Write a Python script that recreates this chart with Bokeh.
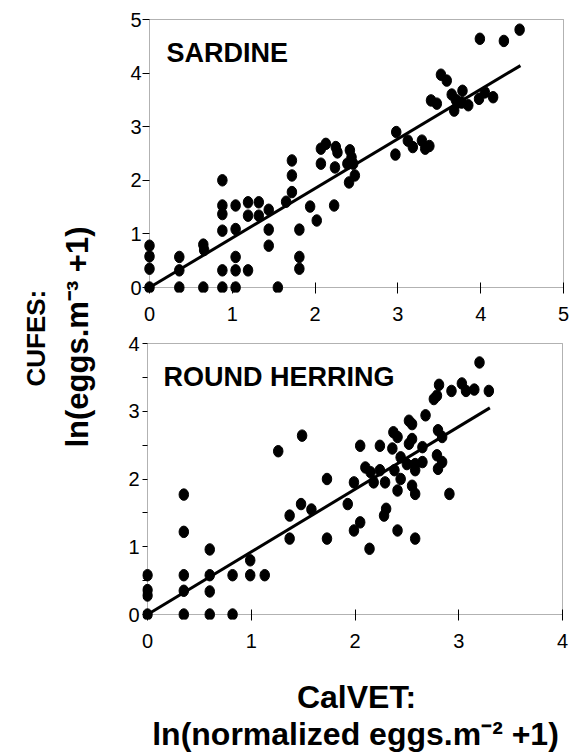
import numpy as np
from bokeh.plotting import figure
from bokeh.layouts import row, column
from bokeh.models import Range1d, FixedTicker, Label, BoxAnnotation
from bokeh.embed import file_html
from bokeh.resources import INLINE

FONT = "Liberation Sans"

# ---------------- data ----------------
sardine_x = [0, 0, 0, 0,
             0.36, 0.36, 0.36,
             0.65, 0.66, 0.65,
             0.88, 0.88, 0.88, 0.88, 0.88, 0.88,
             1.04, 1.04, 1.04, 1.04, 1.04,
             1.19, 1.19, 1.19,
             1.32, 1.32,
             1.44, 1.44, 1.44,
             1.55, 1.65,
             1.72, 1.72, 1.72,
             1.81, 1.81, 1.81,
             1.94, 2.02, 2.07, 2.07, 2.13,
             2.23, 2.24, 2.25, 2.27,
             2.39, 2.41, 2.42, 2.44, 2.46, 2.48,
             2.97, 2.98,
             3.12, 3.18, 3.29, 3.33, 3.38,
             3.40, 3.47, 3.52, 3.59,
             3.65, 3.70, 3.78, 3.68, 3.77, 3.85, 3.72,
             3.98, 4.05, 4.15,
             3.99, 4.28, 4.47]
sardine_y = [0.78, 0.58, 0.35, 0,
             0.57, 0.32, 0,
             0.80, 0.70, 0,
             2.00, 1.53, 1.37, 1.06, 0.32, 0,
             1.53, 1.09, 0.57, 0.32, 0,
             1.59, 1.34, 0.32,
             1.59, 1.34,
             1.45, 1.08, 0.78,
             0, 1.60,
             2.37, 2.09, 1.78,
             1.08, 0.57, 0.35,
             1.51, 1.25, 2.59, 2.31, 2.68,
             1.53, 2.24, 2.62, 2.52,
             2.31, 1.96, 2.56, 2.43, 2.31, 2.09,
             2.48, 2.90,
             2.74, 2.62, 2.74, 2.59, 2.64,
             3.49, 3.43, 3.97, 3.86,
             3.60, 3.50, 3.67, 3.30, 3.45, 3.40, 3.45,
             3.52, 3.64, 3.55,
             4.64, 4.60, 4.81]
sardine_fit_x = [0.0, 4.48]
sardine_fit_y = [0.0, 4.14]

herring_x = [0, 0, 0, 0,
             0.35, 0.35, 0.35, 0.35, 0.35,
             0.60, 0.60, 0.60, 0.60,
             0.82, 0.82,
             0.99, 0.99, 1.13,
             1.26, 1.49, 1.37, 1.37, 1.48, 1.58,
             1.73, 1.73,
             1.93, 1.99, 1.99, 2.05, 2.05, 2.14, 2.10, 2.15, 2.18,
             2.24, 2.24, 2.28, 2.30, 2.29, 2.36, 2.37, 2.41, 2.38,
             2.41, 2.44, 2.41, 2.44, 2.52, 2.55, 2.52, 2.55, 2.50,
             2.55, 2.58, 2.58, 2.58, 2.58, 2.65, 2.65, 2.68,
             2.79, 2.80, 2.84, 2.84, 2.80, 2.76, 2.79, 2.81,
             2.91, 2.93, 3.03, 3.07, 3.15, 3.20, 3.29]
herring_y = [0.58, 0.36, 0.28, 0,
             1.77, 1.22, 0.58, 0.35, 0,
             0.96, 0.58, 0.34, 0,
             0.58, 0,
             0.80, 0.58, 0.58,
             2.41, 2.64, 1.46, 1.12, 1.63, 1.55,
             2.00, 1.12,
             1.63, 1.95, 1.24, 1.36, 2.49, 0.97, 2.17, 2.10, 1.95,
             2.49, 2.13, 1.46, 1.56, 1.95, 2.45, 2.69, 2.62, 2.13,
             1.83, 2.00, 1.24, 2.32, 2.86, 2.81, 2.52, 2.59, 2.22,
             1.90, 1.78, 1.12, 2.22, 2.13, 2.47, 2.25, 2.94,
             2.35, 2.72, 2.62, 2.25, 2.15, 3.18, 3.23, 3.39,
             1.78, 3.30, 3.41, 3.30, 3.32, 3.72, 3.30]
herring_fit_x = [0.0, 3.30]
herring_fit_y = [0.0, 3.05]

sardine_ticks = [0, 1, 2, 3, 4, 5]
herring_ticks = [0, 1, 2, 3, 4]
herring_minor_y = [0.5, 1.5, 2.5, 3.5]

panel_names = ["SARDINE", "ROUND HERRING"]
y_title = ["CUFES:", "ln(eggs.m\u207b\u00b3 +1)"]
x_title = ["CalVET:", "ln(normalized eggs.m\u207b\u00b2 +1)"]

TITLE_W = 96         # width of the left title strip
COL_W = 475          # width of the right-hand column
TOTAL_H = 756
BORDER_L, BORDER_R = 46, 6   # shared by every figure of the column


def panel(xs, ys, fx, fy, ticks, minor_y, name, height, mbt, mbb,
          pad_lo, pad_hi, ylab_standoff, name_off_x, name_off_y):
    amax = ticks[-1]
    ux = (COL_W - BORDER_L - BORDER_R - pad_lo - pad_hi) / amax
    uy = (height - mbt - mbb - 5 - 2) / amax
    p = figure(width=COL_W, height=height, output_backend="svg",
               toolbar_location=None,
               x_range=Range1d(-pad_lo / ux, amax + pad_hi / ux),
               y_range=Range1d(-5 / uy, amax + 2 / uy),
               min_border_left=BORDER_L, min_border_right=BORDER_R,
               min_border_top=mbt, min_border_bottom=mbb)
    p.grid.visible = False
    p.outline_line_color = None
    p.background_fill_color = "white"
    p.border_fill_color = "white"

    p.xaxis.ticker = FixedTicker(ticks=ticks)
    p.yaxis.ticker = FixedTicker(ticks=ticks, minor_ticks=minor_y)
    for ax in (p.xaxis, p.yaxis):
        ax.axis_line_color = None
        ax.major_tick_line_color = "black"
        ax.minor_tick_line_color = "black"
        ax.major_label_text_font = FONT
        ax.major_label_text_font_size = "20px"
        ax.major_label_text_color = "black"
    p.xaxis.major_tick_in = 10
    p.xaxis.major_tick_out = 1
    p.xaxis.minor_tick_line_color = None
    p.xaxis.major_label_standoff = 13
    p.yaxis.major_tick_in = pad_lo
    p.yaxis.major_tick_out = 0
    p.yaxis.minor_tick_in = pad_lo
    p.yaxis.minor_tick_out = 0
    p.yaxis.major_label_standoff = ylab_standoff

    p.add_layout(BoxAnnotation(left=0, right=amax, bottom=0, top=amax,
                               fill_alpha=0, line_color="black",
                               line_width=1, level="underlay"))
    p.line(fx, fy, line_width=3, line_color="black")
    p.ellipse(x=xs, y=ys, width=9.5, height=11.5,
              width_units="screen", height_units="screen",
              fill_color="black", line_color="black")
    p.add_layout(Label(x=name_off_x / ux, y=amax - name_off_y / uy,
                       text=name, text_font=FONT, text_font_size="27px",
                       text_font_style="bold", text_color="black",
                       text_align="left", text_baseline="alphabetic"))
    return p


top = panel(sardine_x, sardine_y, sardine_fit_x, sardine_fit_y,
            sardine_ticks, [], panel_names[0], 332, 17, 40,
            7, 2, 1, 17, 33)
bottom = panel(herring_x, herring_y, herring_fit_x, herring_fit_y,
               herring_ticks, herring_minor_y, panel_names[1], 327, 9, 40,
               5, 3, 3, 16, 33)

XT_H = TOTAL_H - 332 - 327


def blank(w, h, left=0, right=0):
    f = figure(width=w, height=h, output_backend="svg", toolbar_location=None,
               x_range=Range1d(0, w - left - right), y_range=Range1d(0, h),
               x_axis_type=None, y_axis_type=None,
               min_border_left=left, min_border_right=right,
               min_border_top=0, min_border_bottom=0)
    f.grid.visible = False
    f.outline_line_color = None
    f.background_fill_color = "white"
    f.border_fill_color = "white"
    return f


def title_label(x, y, text, size, align, angle=0.0):
    return Label(x=x, y=y, text=text, angle=angle,
                 text_font=FONT, text_font_size=size,
                 text_font_style="bold", text_color="black",
                 text_align=align, text_baseline="alphabetic")


yfig = blank(TITLE_W, TOTAL_H)
yfig.add_layout(title_label(35, TOTAL_H - 386, y_title[0], "26px", "left",
                            np.pi / 2))
yfig.add_layout(title_label(77, TOTAL_H - 447, y_title[1], "31px", "left",
                            np.pi / 2))

xfig = blank(COL_W, XT_H, BORDER_L, BORDER_R)
xfig.add_layout(title_label(214, XT_H - 37, x_title[0], "32px", "center"))
xfig.add_layout(title_label(213, XT_H - 74, x_title[1], "32px", "center"))

layout = row(yfig, column(top, bottom, xfig))

open("out.html", "w").write(file_html(layout, INLINE))
